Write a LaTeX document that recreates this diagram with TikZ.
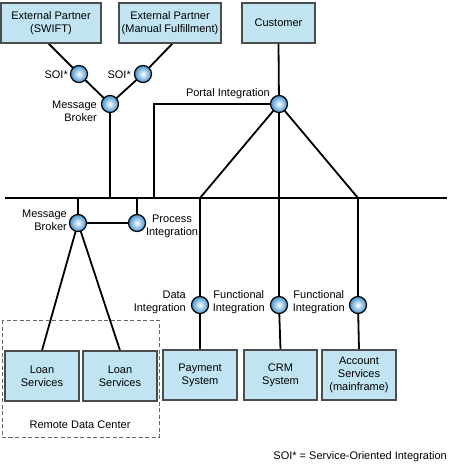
\documentclass[tikz,border=0pt]{standalone}
\usepackage{fontspec}
\setmainfont{Liberation Sans}
\usetikzlibrary{backgrounds}
\begin{document}
\begin{tikzpicture}[x=1pt,y=-1pt,
  font=\fontsize{11}{13}\selectfont,
  sysbox/.style={draw=black!70,line width=1.2pt,fill=boxblue,inner sep=0pt,align=center},
  ball/.style={circle,draw=black,line width=1.2pt,minimum size=17pt,inner sep=0pt,inner color=white,outer color=ballblue},
  conn/.style={line width=1.8pt,black},
  lbl/.style={inner sep=0pt,align=center}]
\definecolor{boxblue}{RGB}{192,228,242}
\definecolor{ballblue}{RGB}{66,146,206}
\useasboundingbox (0,0) rectangle (450,468);
% boxes
\node[sysbox,minimum width=100pt,minimum height=40pt] (swift) at (51,23) {External Partner\\(SWIFT)};
\node[sysbox,minimum width=102pt,minimum height=40pt] (manual) at (170,23) {External Partner\\(Manual Fulfillment)};
\node[sysbox,minimum width=73pt,minimum height=40pt] (cust) at (278.5,23) {Customer};
\node[sysbox,minimum width=74pt,minimum height=50pt] (loan1) at (42,376) {Loan\\Services};
\node[sysbox,minimum width=74pt,minimum height=50pt] (loan2) at (120,376) {Loan\\Services};
\node[sysbox,minimum width=74pt,minimum height=50pt] (pay) at (200,375) {Payment\\System};
\node[sysbox,minimum width=73pt,minimum height=50pt] (crm) at (280.5,375) {CRM\\System};
\node[sysbox,minimum width=74pt,minimum height=50pt] (acct) at (359,375) {Account\\Services\\(mainframe)};
% dashed remote data center
\draw[black!60,line width=0.9pt,dash pattern=on 4pt off 2.5pt] (2,320) rectangle (159,437);
\node[lbl] (rdc) at (80,425) {Remote Data Center};
% bus coordinates
\coordinate (busL) at (5,198);
\coordinate (busR) at (447,198);
\coordinate (bMB) at (110,198);
\coordinate (bPI) at (154,198);
\coordinate (bA) at (200,198);
\coordinate (bB) at (279,198);
\coordinate (bC) at (358,198);
\coordinate (bD) at (78,198);
\coordinate (bE) at (137,198);
\coordinate (swiftB) at (48,43);
\coordinate (manB) at (173,43);
\coordinate (piCorner) at (154,104);
% balls
\node[ball] (soi1) at (79,74) {};
\node[ball] (soi2) at (143,74) {};
\node[ball] (mb1) at (110,104) {};
\node[ball] (portal) at (279,104) {};
\node[ball] (mb2) at (78,223) {};
\node[ball] (proc) at (137,223) {};
\node[ball] (data) at (200,305) {};
\node[ball] (func1) at (279,305) {};
\node[ball] (func2) at (358,305) {};
% connectors
\begin{pgfonlayer}{background}
\draw[conn] (busL) -- (busR);
\draw[conn] (swiftB) -- (soi1.center) -- (mb1.center);
\draw[conn] (manB) -- (soi2.center) -- (mb1.center);
\draw[conn] (mb1.center) -- (bMB);
\draw[conn] (cust.south) -- (portal.center) -- (bB);
\draw[conn] (portal.center) -- (piCorner) -- (bPI);
\draw[conn] (portal.center) -- (bA);
\draw[conn] (portal.center) -- (bC);
\draw[conn] (bD) -- (mb2.center);
\draw[conn] (bE) -- (proc.center);
\draw[conn] (mb2.center) -- (proc.center);
\draw[conn] (mb2.center) -- (loan1.north);
\draw[conn] (mb2.center) -- (loan2.north);
\draw[conn] (bA) -- (data.center) -- (pay.north);
\draw[conn] (bB) -- (func1.center) -- (crm.north);
\draw[conn] (bC) -- (func2.center) -- (acct.north);
\end{pgfonlayer}
% labels
\node[lbl,anchor=east] (l1) at (68,75) {SOI*};
\node[lbl,anchor=east] (l2) at (131,75) {SOI*};
\node[lbl,anchor=east,align=right] (l3) at (97,111) {Message\\Broker};
\node[lbl,anchor=south east] (l4) at (270,99) {Portal Integration};
\node[lbl,anchor=east,align=right] (l5) at (67,220) {Message\\Broker};
\node[lbl,align=center] (l6) at (172,226) {Process\\Integration};
\node[lbl,anchor=east,align=right] (l7) at (186,302) {Data\\Integration};
\node[lbl,anchor=east,align=center] (l8) at (265,302) {Functional\\Integration};
\node[lbl,anchor=east,align=center] (l9) at (345,302) {Functional\\Integration};
\node[lbl,anchor=east] (l10) at (447,457) {SOI* = Service-Oriented Integration};
\end{tikzpicture}
\end{document}
